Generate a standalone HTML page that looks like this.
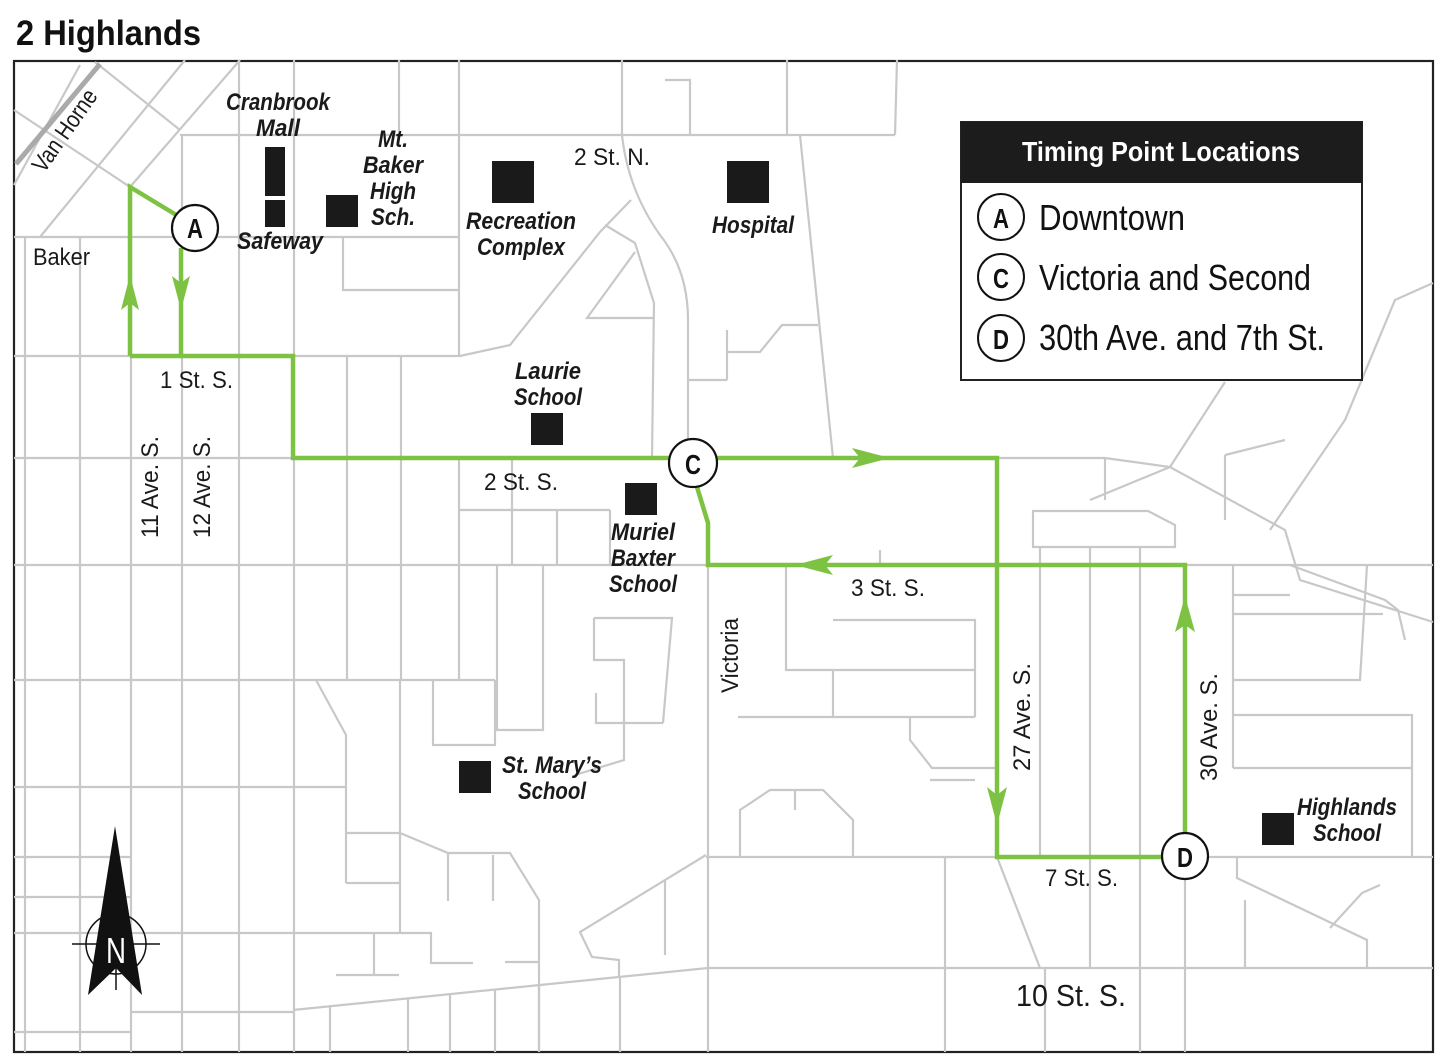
<!DOCTYPE html>
<html><head><meta charset="utf-8"><style>
html,body{margin:0;padding:0;background:#fff;}
svg{display:block;}
.s{stroke:#c8c8c8;stroke-width:2.2;fill:none;}
.lb{font-family:"Liberation Sans Narrow","Liberation Sans",sans-serif;font-style:italic;font-weight:bold;font-size:24px;fill:#1a1a1a;}
.st{font-family:"Liberation Sans Narrow","Liberation Sans",sans-serif;font-size:24px;fill:#1a1a1a;}
</style></head><body>
<svg width="1440" height="1059" viewBox="0 0 1440 1059" xmlns="http://www.w3.org/2000/svg">
<text x="16" y="45" font-family="Liberation Sans Narrow, Liberation Sans, sans-serif" font-weight="bold" font-size="35" textLength="185" lengthAdjust="spacingAndGlyphs" fill="#111">2 Highlands</text>
<rect x="14" y="61" width="1419" height="991" fill="#fff" stroke="#222" stroke-width="2.2"/>
<g class="s">
<path d="M14,185 L80,65 M40,237 L185,60 M130,187 L240,60 M14,110 L130,187 M95,62 L180,130"/>
<path d="M180,135 H895 M897,60 L895,135"/>
<path d="M14,237 H460 M343,237 V290 H460"/>
<path d="M14,356 H460 L510,345 L600,232 L631,200 M605,225 L635,243 L654,303 L652,458 M635,252 L587,318 H654"/>
<path d="M622,60 V135 Q628,190 660,235 Q688,270 688,320 V458 M665,80 H690 V135 M787,60 V135 M800,135 L833,458"/>
<path d="M688,380 H727 M727,330 V380 M727,352 H760 L782,325 H818"/>
<path d="M14,458 H1105 L1170,467 L1285,530 L1300,580 L1433,622"/>
<path d="M1170,467 L1225,382 M1225,455 L1285,440 M1270,530 L1345,420 L1395,300 L1433,283 M1090,500 L1170,467"/>
<path d="M460,510 H610 M512,458 V565 M557,510 V565 M610,510 V565"/>
<path d="M14,565 H1433 M1290,565 L1385,600 L1398,610 L1405,640 M1233,614 H1383 M1233,595 L1290,595"/>
<path d="M1033,511 H1148 L1175,525 V547 H1033 Z"/>
<path d="M1040,547 V857 M1090,547 V857 M1140,547 V857 M1233,565 V768 M1233,715 H1412 V857 M1233,768 H1412 M1367,565 L1360,680 H1233"/>
<path d="M786,565 V670 H975 M833,620 H975 V717 M833,670 V717 H975 M738,717 H833 M910,717 V740 L932,768 H997 M880,550 V565 M930,780 H975"/>
<path d="M740,857 V810 L770,790 H823 L853,820 V857 M795,790 V810"/>
<path d="M14,680 H495 M14,787 H347 M14,857 H130 M14,897 H131 M14,933 H431 V963 H473 M505,962 H539 M131,1012 H293 M14,1032 H131"/>
<path d="M25,237 V1052 M80,237 V1052 M131,187 V1052 M182,135 V1052 M239,60 V1052 M294,60 V1052 M347,356 V680 M399,60 V135 M401,356 V680 M459,60 V356 M459,458 V680 M497,565 V730 H543 V565"/>
<path d="M316,680 L346,735 V883 M346,833 H400 M346,883 H400 M400,680 V933 M400,833 L448,853 H510 L539,900 V1052 M448,853 V901 M493,855 V901 M336,975 H399 M374,933 V975 M433,680 V745 H495 V680"/>
<path d="M594,618 H672 L663,723 M594,618 V660 H624 V760 L575,775 M596,693 V723 H663"/>
<path d="M708,565 V1052 M706,855 L580,932 L592,957 L619,960 V977 M665,880 V955 M706,857 H1433"/>
<path d="M293,1010 L708,968 H1433 M330,1005 V1052 M408,998 V1052 M450,994 V1052 M495,990 V1052 M539,985 V1052 M620,977 V1052"/>
<path d="M997,857 L1040,968 M945,857 V1052 M1090,857 V968 M1140,857 V1052 M1185,857 V1052 M1045,968 V1052 M1237,857 V878 L1367,940 V968 M1330,928 L1362,893 L1380,885 M1245,900 V968"/>
<path d="M1105,458 V500 M1225,455 V520"/>
</g>
<line x1="16" y1="164" x2="100" y2="64" stroke="#aaa" stroke-width="5"/>
<g fill="#1a1a1a">
<rect x="265" y="147" width="20" height="49"/><rect x="265" y="200" width="20" height="27"/>
<rect x="326" y="195" width="32" height="32"/>
<rect x="492" y="161" width="42" height="42"/>
<rect x="727" y="161" width="42" height="42"/>
<rect x="531" y="413" width="32" height="32"/>
<rect x="625" y="483" width="32" height="32"/>
<rect x="459" y="761" width="32" height="32"/>
<rect x="1262" y="813" width="32" height="32"/>
</g>
<g stroke="#7dc242" stroke-width="4.5" fill="none" stroke-linejoin="miter">
<path d="M130,356 V187 L178,216"/>
<path d="M181,248 V356"/>
<path d="M130,356 H293 V458 H670"/>
<path d="M717,458 H997 V857 H1162"/>
<path d="M1185,833 V565 H708 V523 L697,487"/>
</g>
<g fill="#7dc242">
<polygon points="130,275 121,310 130,303 139,310"/>
<polygon points="181,310 172,276 181,283 190,276"/>
<polygon points="890,458 852,448 860,458 852,468"/>
<polygon points="795,565 833,555 825,565 833,575"/>
<polygon points="997,825 987,787 997,795 1007,787"/>
<polygon points="1185,596 1175,632 1185,625 1195,632"/>
</g>
<g stroke="#111" stroke-width="2.2" fill="#fff">
<circle cx="195" cy="228" r="23"/><circle cx="693" cy="463" r="24"/><circle cx="1185" cy="856" r="23"/>
</g>
<g font-family="Liberation Sans Narrow, Liberation Sans, sans-serif" font-weight="bold" font-size="28" fill="#111" text-anchor="middle">
<text x="195" y="238" textLength="16" lengthAdjust="spacingAndGlyphs">A</text><text x="693" y="474" textLength="16" lengthAdjust="spacingAndGlyphs">C</text><text x="1185" y="867" textLength="16" lengthAdjust="spacingAndGlyphs">D</text>
</g>
<g class="lb" text-anchor="middle" lengthAdjust="spacingAndGlyphs">
<text x="278" y="110" textLength="104" lengthAdjust="spacingAndGlyphs">Cranbrook</text><text x="278" y="136" textLength="44" lengthAdjust="spacingAndGlyphs">Mall</text>
<text x="393" y="147" textLength="30" lengthAdjust="spacingAndGlyphs">Mt.</text><text x="393" y="173" textLength="60" lengthAdjust="spacingAndGlyphs">Baker</text><text x="393" y="199" textLength="46" lengthAdjust="spacingAndGlyphs">High</text><text x="393" y="225" textLength="44" lengthAdjust="spacingAndGlyphs">Sch.</text>
<text x="280" y="249" textLength="86" lengthAdjust="spacingAndGlyphs">Safeway</text>
<text x="521" y="229" textLength="110" lengthAdjust="spacingAndGlyphs">Recreation</text><text x="521" y="255" textLength="88" lengthAdjust="spacingAndGlyphs">Complex</text>
<text x="753" y="233" textLength="82" lengthAdjust="spacingAndGlyphs">Hospital</text>
<text x="548" y="379" textLength="66" lengthAdjust="spacingAndGlyphs">Laurie</text><text x="548" y="405" textLength="68" lengthAdjust="spacingAndGlyphs">School</text>
<text x="643" y="540" textLength="64" lengthAdjust="spacingAndGlyphs">Muriel</text><text x="643" y="566" textLength="64" lengthAdjust="spacingAndGlyphs">Baxter</text><text x="643" y="592" textLength="68" lengthAdjust="spacingAndGlyphs">School</text>
<text x="552" y="773" textLength="100" lengthAdjust="spacingAndGlyphs">St. Mary’s</text><text x="552" y="799" textLength="68" lengthAdjust="spacingAndGlyphs">School</text>
<text x="1347" y="815" textLength="100" lengthAdjust="spacingAndGlyphs">Highlands</text><text x="1347" y="841" textLength="68" lengthAdjust="spacingAndGlyphs">School</text>
</g>
<g class="st">
<text x="33" y="265" textLength="57" lengthAdjust="spacingAndGlyphs">Baker</text>
<text x="160" y="388" textLength="73" lengthAdjust="spacingAndGlyphs">1 St. S.</text>
<text x="484" y="490" textLength="74" lengthAdjust="spacingAndGlyphs">2 St. S.</text>
<text x="574" y="165" textLength="76" lengthAdjust="spacingAndGlyphs">2 St. N.</text>
<text x="851" y="596" textLength="74" lengthAdjust="spacingAndGlyphs">3 St. S.</text>
<text x="1045" y="886" textLength="73" lengthAdjust="spacingAndGlyphs">7 St. S.</text>
<text x="1016" y="1006" font-size="31" textLength="110" lengthAdjust="spacingAndGlyphs">10 St. S.</text>
<text transform="translate(158,538) rotate(-90)" textLength="102" lengthAdjust="spacingAndGlyphs">11 Ave. S.</text>
<text transform="translate(210,538) rotate(-90)" textLength="102" lengthAdjust="spacingAndGlyphs">12 Ave. S.</text>
<text transform="translate(738,693) rotate(-90)" textLength="75" lengthAdjust="spacingAndGlyphs">Victoria</text>
<text transform="translate(1030,771) rotate(-90)" textLength="108" lengthAdjust="spacingAndGlyphs">27 Ave. S.</text>
<text transform="translate(1217,781) rotate(-90)" textLength="108" lengthAdjust="spacingAndGlyphs">30 Ave. S.</text>
<text transform="translate(44,174) rotate(-55)" textLength="95" lengthAdjust="spacingAndGlyphs">Van Horne</text>
</g>
<g>
<circle cx="116" cy="944" r="30" fill="none" stroke="#111" stroke-width="1.5"/>
<line x1="72" y1="944" x2="160" y2="944" stroke="#111" stroke-width="1.5"/>
<line x1="116" y1="960" x2="116" y2="990" stroke="#111" stroke-width="1.5"/>
<polygon points="115,826 88,995 116,968 142,995" fill="#111"/>
<text x="116" y="963" text-anchor="middle" font-family="Liberation Sans Narrow, Liberation Sans, sans-serif" font-size="36" fill="#fff" textLength="20" lengthAdjust="spacingAndGlyphs">N</text>
</g>
<rect x="961" y="122" width="401" height="258" fill="#fff" stroke="#222" stroke-width="2"/>
<rect x="961" y="122" width="401" height="61" fill="#1c1c1c"/>
<text x="1161" y="161" text-anchor="middle" font-family="Liberation Sans Narrow, Liberation Sans, sans-serif" font-weight="bold" font-size="28" fill="#fff" textLength="278" lengthAdjust="spacingAndGlyphs">Timing Point Locations</text>
<g stroke="#111" stroke-width="2" fill="#fff">
<circle cx="1001" cy="217" r="23"/><circle cx="1001" cy="277" r="23"/><circle cx="1001" cy="338" r="23"/>
</g>
<g font-family="Liberation Sans Narrow, Liberation Sans, sans-serif" font-weight="bold" font-size="28" fill="#111" text-anchor="middle">
<text x="1001" y="228" textLength="16" lengthAdjust="spacingAndGlyphs">A</text><text x="1001" y="288" textLength="16" lengthAdjust="spacingAndGlyphs">C</text><text x="1001" y="349" textLength="16" lengthAdjust="spacingAndGlyphs">D</text>
</g>
<g font-family="Liberation Sans Narrow, Liberation Sans, sans-serif" font-size="36" fill="#111">
<text x="1039" y="230" textLength="146" lengthAdjust="spacingAndGlyphs">Downtown</text>
<text x="1039" y="290" textLength="272" lengthAdjust="spacingAndGlyphs">Victoria and Second</text>
<text x="1039" y="350" textLength="286" lengthAdjust="spacingAndGlyphs">30th Ave. and 7th St.</text>
</g>
</svg>
</body></html>
